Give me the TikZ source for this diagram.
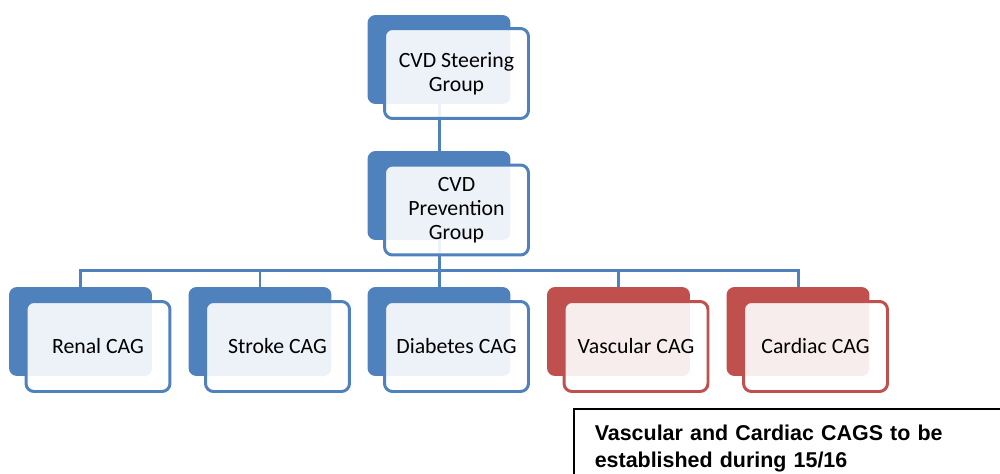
\documentclass[tikz,border=0pt]{standalone}
\usepackage{fontspec}
\setmainfont{Carlito}
\newfontfamily\notefont{Liberation Sans}
\usetikzlibrary{positioning}
\definecolor{cvdblue}{HTML}{4F81BD}
\definecolor{cvdred}{HTML}{C0504D}

\begin{document}
\begin{tikzpicture}[x=0.02cm,y=-0.02cm]
\tikzstyle{back}=[rectangle,rounded corners=0.16cm,minimum width=2.86cm,minimum height=1.78cm,inner sep=0pt]
\tikzstyle{front}=[rectangle,rounded corners=0.16cm,line width=1.7pt,fill=white,fill opacity=0.9,text opacity=1,minimum width=2.88cm,minimum height=1.8cm,inner sep=0pt,align=center,font=\fontsize{12.4}{13.6}\selectfont]
\tikzstyle{link}=[cvdblue,line width=1.7pt]
\tikzstyle{note}=[rectangle,draw=black,line width=0.9pt,fill=white,anchor=north west,inner xsep=0.42cm,text width=8cm,minimum height=1.6cm,align=left,font=\notefont\bfseries\fontsize{12.2}{15.5}\selectfont]
\clip (0,0) rectangle (1000,473);
% back plates
\node[back,fill=cvdblue] (steer) at (439,59.5) {};
\node[back,fill=cvdblue] (prev) at (439,195.5) {};
\foreach \name/\x/\col in {
	renal/80.5/cvdblue,
	stroke/260/cvdblue,
	diab/439/cvdblue,
	vasc/618.5/cvdred,
	card/798/cvdred}
	\node[back,fill=\col] (\name) at (\x,331.5) {};
% connectors
\draw[link] (steer.south) -- (prev.north);
\foreach \name in {renal,stroke,diab,vasc,card}
	\draw[link] (prev.south) -- ++(0,30) -| (\name.north);
% front boxes
\node[front,draw=cvdblue] (steerf) at ([shift={(17.5,14)}]steer) {CVD Steering\\Group};
\node[front,draw=cvdblue] (prevf) at ([shift={(17.5,14.5)}]prev) {CVD\\Prevention\\Group};
\foreach \name/\col/\txt in {
	renal/cvdblue/Renal CAG,
	stroke/cvdblue/Stroke CAG,
	diab/cvdblue/Diabetes CAG,
	vasc/cvdred/Vascular CAG,
	card/cvdred/Cardiac CAG}
	\node[front,draw=\col] (\name f) at ([shift={(17.5,15)}]\name) {\txt};
% note
\node[note] (remark) at (573,408) {Vascular and Cardiac CAGS to be\\established during 15/16};
\end{tikzpicture}
\end{document}
